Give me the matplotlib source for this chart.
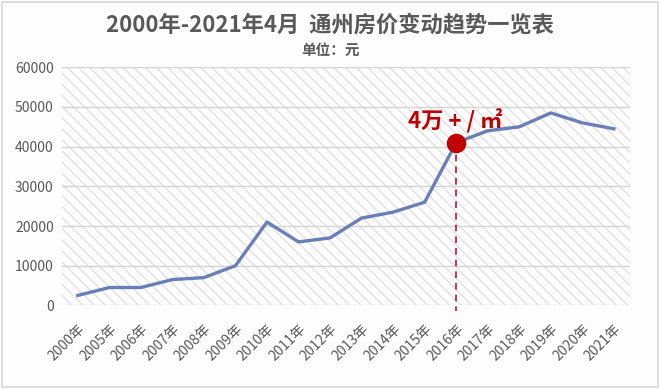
import matplotlib.pyplot as plt
from matplotlib.patches import Rectangle

plt.rcParams['font.family'] = ['Noto Sans CJK SC', 'DejaVu Sans']
plt.rcParams['hatch.color'] = '#d9d9d9'
plt.rcParams['hatch.linewidth'] = 0.8

# data
years = ['2000年', '2005年', '2006年', '2007年', '2008年', '2009年', '2010年', '2011年', '2012年',
         '2013年', '2014年', '2015年', '2016年', '2017年', '2018年', '2019年', '2020年', '2021年']
prices = [2500, 4500, 4500, 6500, 7000, 10000, 21000, 16000, 17000,
          22000, 23500, 26000, 41000, 44000, 45000, 48500, 46000, 44500]
highlight = '2016年'
highlight_label = '4万 + / ㎡'

fig = plt.figure(figsize=(6.6, 3.89), dpi=100, facecolor='#fdfdfe')
fig.patches.append(Rectangle((0.003, 0.005), 0.994, 0.99, transform=fig.transFigure,
                             fill=False, edgecolor='#d8d8dc', linewidth=1.2))
ax = fig.add_axes([0.094, 0.215, 0.86, 0.612])
ax.set_facecolor('#fdfdfe')

x = list(range(len(years)))
ax.add_patch(Rectangle((-0.5, 0), len(years), 60000, facecolor='none', hatch='\\\\\\',
                       edgecolor='#dcdcdc', linewidth=0, zorder=0))
for v in range(0, 60001, 10000):
    ax.axhline(v, color='#d4d4d4', linewidth=1, zorder=1)

ax.plot(x, prices, color='#6a7fb8', linewidth=2.4, zorder=3)

i = years.index(highlight)
ax.plot([i, i], [prices[i], -1500], color='#c8102e', linestyle=(0, (4, 3)), linewidth=1.2,
        zorder=2, clip_on=False)
ax.scatter([i], [prices[i]], s=170, color='#c00000', zorder=4)
ax.annotate(highlight_label, (i, prices[i]), xytext=(-35, 10), textcoords='offset points',
            color='#c00000', fontsize=16, fontweight='bold', va='baseline')

ax.set_xlim(-0.5, len(years) - 0.5)
ax.set_ylim(0, 60000)
ax.set_yticks(range(0, 60001, 10000))
ax.set_xticks(x)
ax.set_xticklabels(years, rotation=45, ha='right', rotation_mode='anchor')
ax.tick_params(axis='both', length=0, colors='#595959', labelsize=10)
ax.tick_params(axis='x', pad=12)
ax.tick_params(axis='y', pad=6)
for s in ax.spines.values():
    s.set_visible(False)

fig.text(0.5, 0.935, '2000年-2021年4月  通州房价变动趋势一览表', ha='center', va='center',
         fontsize=16, fontweight='bold', color='#595959')
fig.text(0.5, 0.871, '单位：元', ha='center', va='center', fontsize=10.5,
         fontweight='bold', color='#595959')

fig.savefig('out.png', dpi=100, facecolor=fig.get_facecolor())
